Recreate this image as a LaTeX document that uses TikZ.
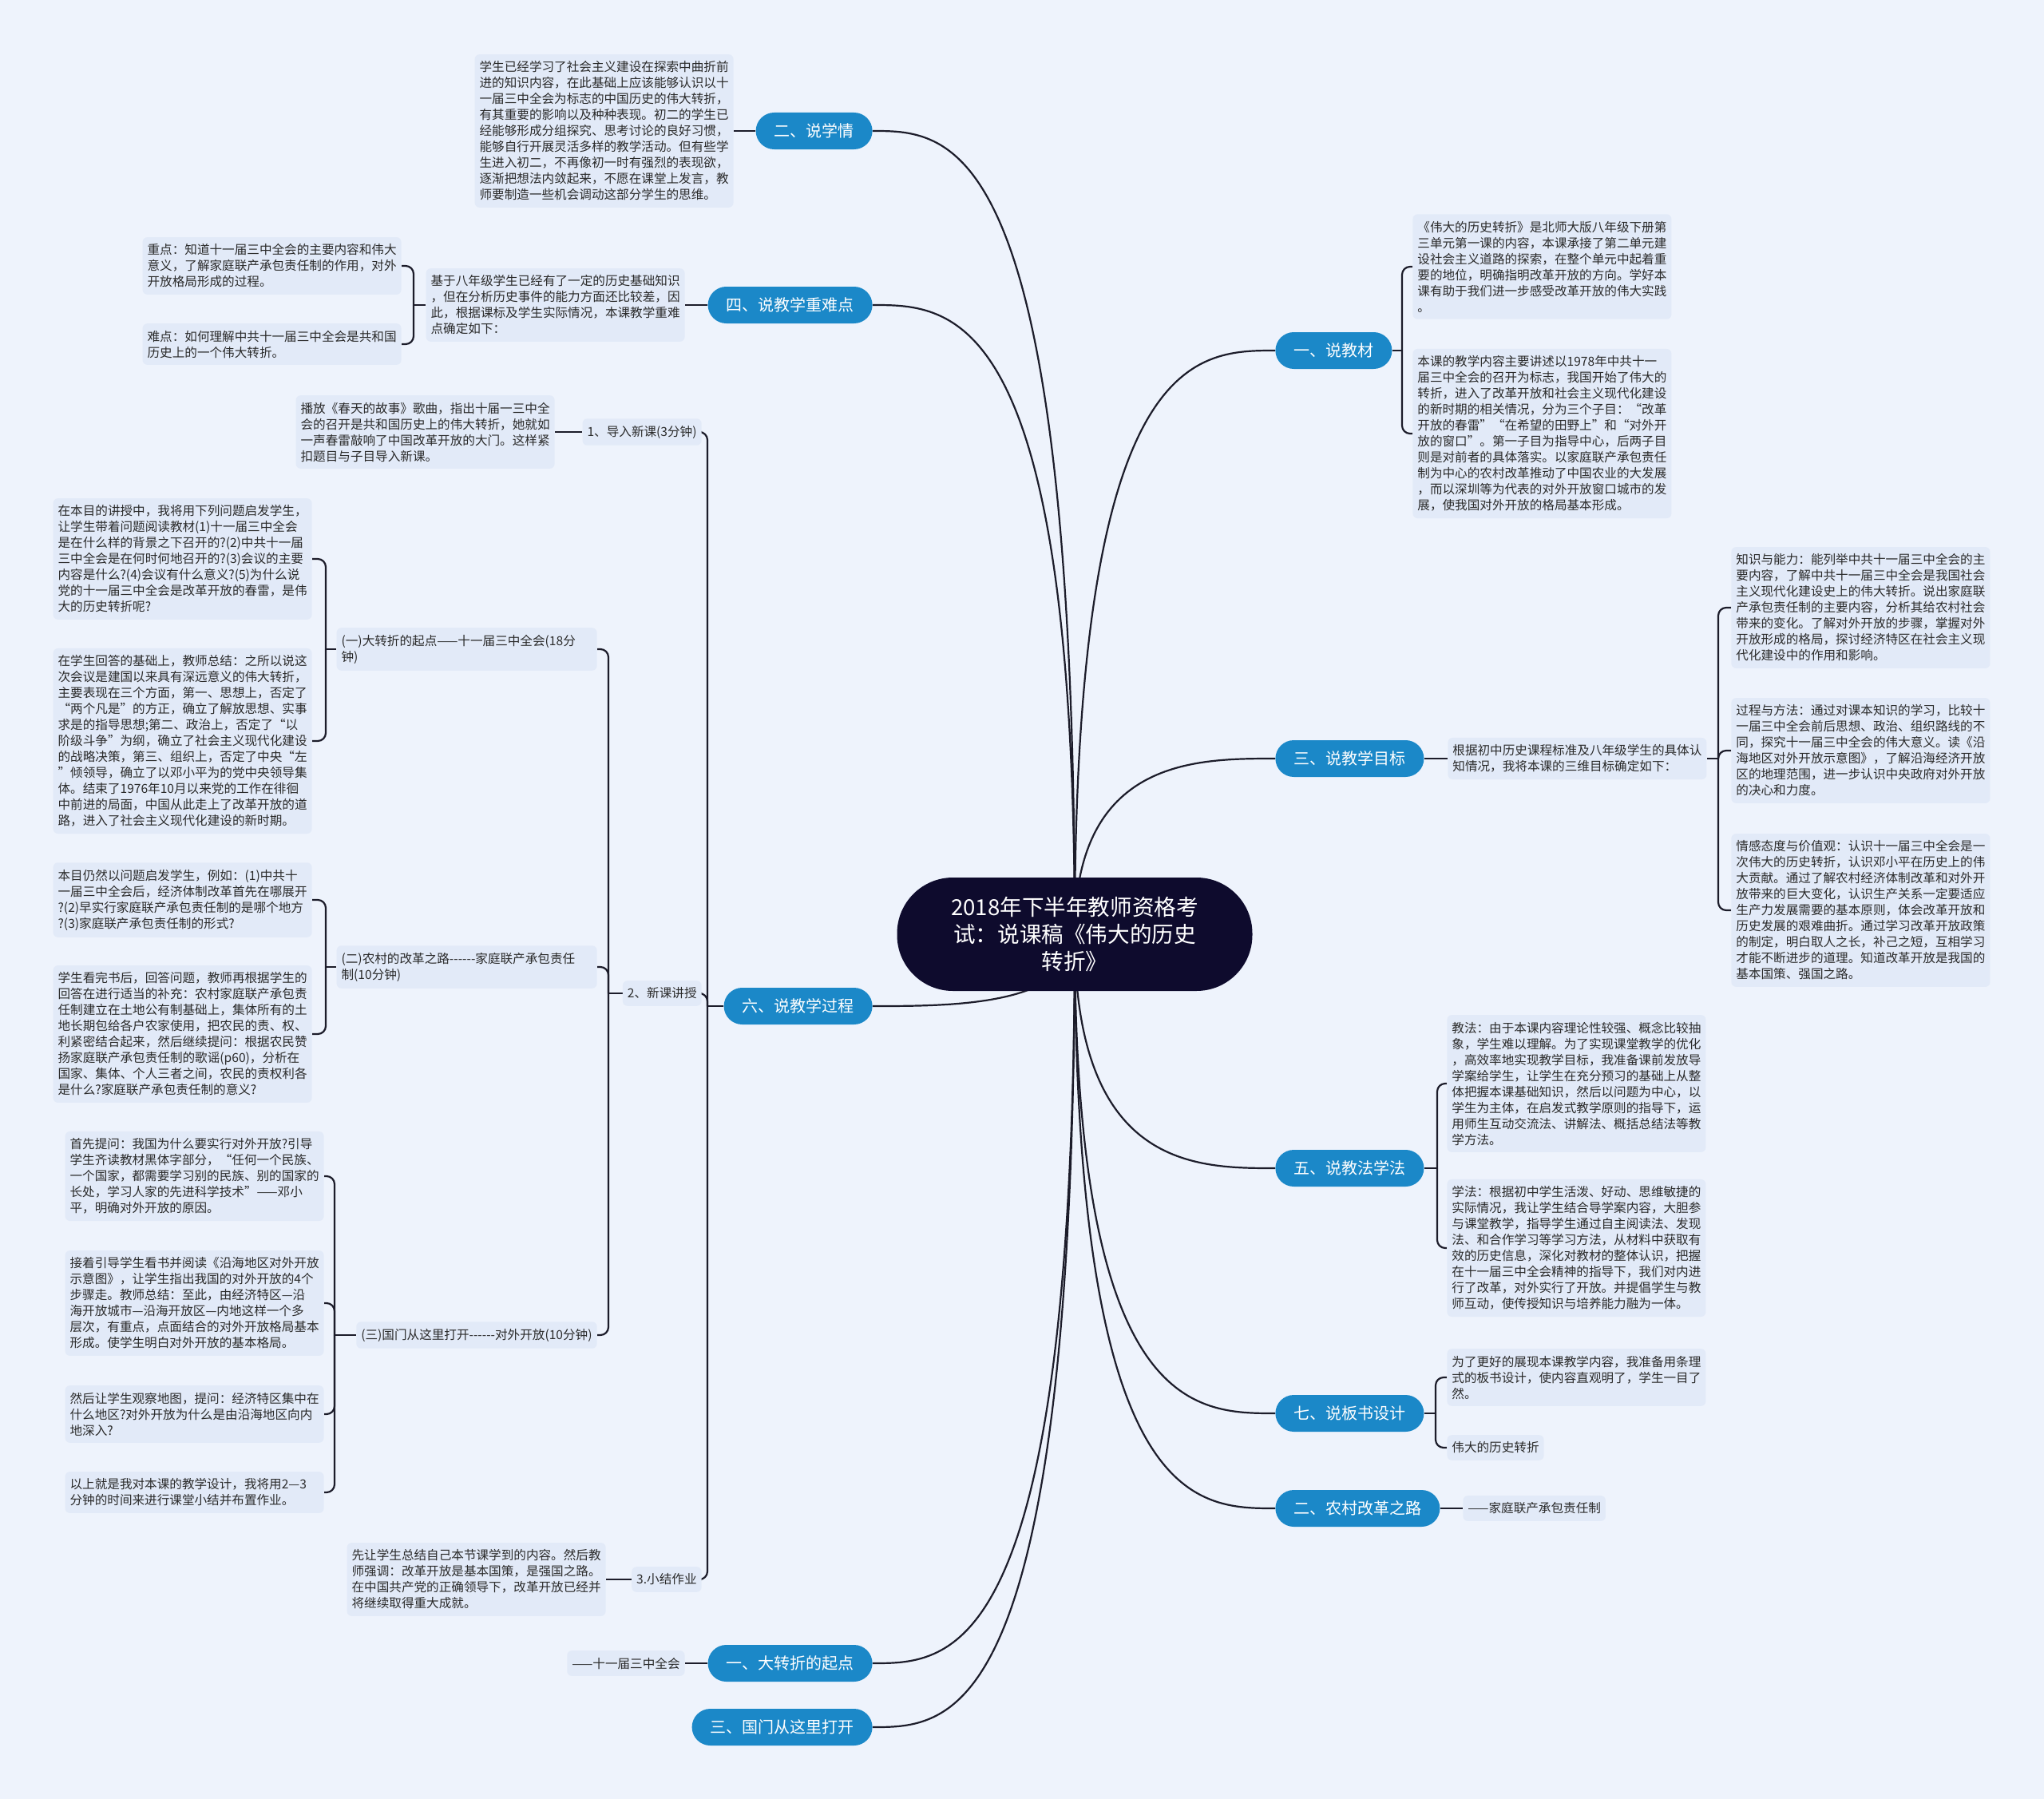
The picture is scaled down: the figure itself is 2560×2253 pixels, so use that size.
\documentclass[tikz,border=0pt]{standalone}
\usepackage{fontspec}
\setmainfont{Noto Sans CJK SC}
\usetikzlibrary{calc}
\pgfdeclarelayer{bgl}
\pgfdeclarelayer{lnl}
\pgfsetlayers{bgl,lnl,main}
\definecolor{bgc}{HTML}{EEF3FC}
\definecolor{boxc}{HTML}{E2EAF8}
\definecolor{bluec}{HTML}{1B88C8}
\definecolor{darkc}{HTML}{0E0B2D}
\definecolor{linec}{HTML}{1C1C2A}
\definecolor{txtc}{HTML}{2A2A2A}
\newcommand\dsh{-\kern0pt-\kern0pt-\kern0pt-\kern0pt-\kern0pt-}
\begin{document}
\begin{tikzpicture}[x=0.5pt,y=-0.5pt,
  txt/.style={fill=boxc, rounded corners=3pt, align=left, inner xsep=3pt, inner ysep=4.3pt,
    font=\fontsize{7.8pt}{10pt}\selectfont, text=txtc},
  topic/.style={fill=bluec, text=white, rounded corners=11.5pt, minimum height=23pt,
    inner xsep=11.5pt, inner ysep=0pt, font=\fontsize{10pt}{12pt}\selectfont},
  conn/.style={draw=linec, line width=1.1pt},
  brk/.style={conn, rounded corners=5pt},
]
\useasboundingbox (0,0) rectangle (2560,2253);

% ---------- centre ----------
\node[fill=darkc, text=white, rounded corners=35pt, minimum width=222.5pt, minimum height=71pt,
  inner sep=0pt, align=center, font=\fontsize{13.8pt}{17pt}\selectfont] (C) at (1346,1170)
  {2018年下半年教师资格考\\试：说课稿《伟大的历史\\转折》};

% ---------- left main topics ----------
\node[topic, anchor=east] (b2xq) at (1093,164) {二、说学情};
\node[topic, anchor=east] (b4) at (1093,382) {四、说教学重难点};
\node[topic, anchor=east] (b6) at (1093,1260) {六、说教学过程};
\node[topic, anchor=east] (b1q) at (1093,2083) {一、大转折的起点};
\node[topic, anchor=east] (b3g) at (1093,2163) {三、国门从这里打开};

% ---------- right main topics ----------
\node[topic, anchor=west] (r1) at (1597,439) {一、说教材};
\node[topic, anchor=west] (r3) at (1597,950) {三、说教学目标};
\node[topic, anchor=west] (r5) at (1597,1463) {五、说教法学法};
\node[topic, anchor=west] (r7) at (1597,1770) {七、说板书设计};
\node[topic, anchor=west] (r2) at (1597,1889) {二、农村改革之路};

% ---------- 二、说学情 ----------
\node[txt, anchor=east] (t2xq) at (919,164) {学生已经学习了社会主义建设在探索中曲折前\\进的知识内容，在此基础上应该能够认识以十\\一届三中全会为标志的中国历史的伟大转折，\\有其重要的影响以及种种表现。初二的学生已\\经能够形成分组探究、思考讨论的良好习惯，\\能够自行开展灵活多样的教学活动。但有些学\\生进入初二，不再像初一时有强烈的表现欲，\\逐渐把想法内敛起来，不愿在课堂上发言，教\\师要制造一些机会调动这部分学生的思维。};

% ---------- 四、说教学重难点 ----------
\node[txt, anchor=east] (t4) at (858,382) {基于八年级学生已经有了一定的历史基础知识\\，但在分析历史事件的能力方面还比较差，因\\此，根据课标及学生实际情况，本课教学重难\\点确定如下：};
\node[txt, anchor=east] (t4a) at (503,333) {重点：知道十一届三中全会的主要内容和伟大\\意义，了解家庭联产承包责任制的作用，对外\\开放格局形成的过程。};
\node[txt, anchor=east] (t4b) at (503,431) {难点：如何理解中共十一届三中全会是共和国\\历史上的一个伟大转折。};

% ---------- 六、说教学过程 ----------
\node[txt, anchor=east] (s1) at (879,541) {1、导入新课(3分钟)};
\node[txt, anchor=east] (s1t) at (695,541) {播放《春天的故事》歌曲，指出十届一三中全\\会的召开是共和国历史上的伟大转折，她就如\\一声春雷敲响了中国改革开放的大门。这样紧\\扣题目与子目导入新课。};
\node[txt, anchor=east] (s2) at (879,1244) {2、新课讲授};
\node[txt, anchor=east, text width=157pt] (k1) at (748,813) {(一)大转折的起点——十一届三中全会(18分\\钟)};
\node[txt, anchor=east] (A1) at (391,700) {在本目的讲授中，我将用下列问题启发学生，\\让学生带着问题阅读教材(1)十一届三中全会\\是在什么样的背景之下召开的?(2)中共十一届\\三中全会是在何时何地召开的?(3)会议的主要\\内容是什么?(4)会议有什么意义?(5)为什么说\\党的十一届三中全会是改革开放的春雷，是伟\\大的历史转折呢?};
\node[txt, anchor=east] (A2) at (391,928) {在学生回答的基础上，教师总结：之所以说这\\次会议是建国以来具有深远意义的伟大转折，\\主要表现在三个方面，第一、思想上，否定了\\“两个凡是”的方正，确立了解放思想、实事\\求是的指导思想;第二、政治上，否定了“以\\阶级斗争”为纲，确立了社会主义现代化建设\\的战略决策，第三、组织上，否定了中央“左\\”倾领导，确立了以邓小平为的党中央领导集\\体。结束了1976年10月以来党的工作在徘徊\\中前进的局面，中国从此走上了改革开放的道\\路，进入了社会主义现代化建设的新时期。};
\node[txt, anchor=east, text width=157pt] (k2) at (748,1211) {(二)农村的改革之路\dsh 家庭联产承包责任\\制(10分钟)};
\node[txt, anchor=east] (B1) at (391,1127) {本目仍然以问题启发学生，例如：(1)中共十\\一届三中全会后，经济体制改革首先在哪展开\\?(2)早实行家庭联产承包责任制的是哪个地方\\?(3)家庭联产承包责任制的形式?};
\node[txt, anchor=east] (B2) at (391,1295) {学生看完书后，回答问题，教师再根据学生的\\回答在进行适当的补充：农村家庭联产承包责\\任制建立在土地公有制基础上，集体所有的土\\地长期包给各户农家使用，把农民的责、权、\\利紧密结合起来，然后继续提问：根据农民赞\\扬家庭联产承包责任制的歌谣(p60)，分析在\\国家、集体、个人三者之间，农民的责权利各\\是什么?家庭联产承包责任制的意义?};
\node[txt, anchor=east] (k3) at (748,1672) {(三)国门从这里打开\dsh 对外开放(10分钟)};
\node[txt, anchor=east] (C1) at (406,1473) {首先提问：我国为什么要实行对外开放?引导\\学生齐读教材黑体字部分，“任何一个民族、\\一个国家，都需要学习别的民族、别的国家的\\长处，学习人家的先进科学技术”——邓小\\平，明确对外开放的原因。};
\node[txt, anchor=east] (C2) at (406,1632) {接着引导学生看书并阅读《沿海地区对外开放\\示意图》，让学生指出我国的对外开放的4个\\步骤走。教师总结：至此，由经济特区—沿\\海开放城市—沿海开放区—内地这样一个多\\层次，有重点，点面结合的对外开放格局基本\\形成。使学生明白对外开放的基本格局。};
\node[txt, anchor=east] (C3) at (406,1771) {然后让学生观察地图，提问：经济特区集中在\\什么地区?对外开放为什么是由沿海地区向内\\地深入?};
\node[txt, anchor=east, text width=156pt] (C4) at (406,1869) {以上就是我对本课的教学设计，我将用2—3\\分钟的时间来进行课堂小结并布置作业。};
\node[txt, anchor=east] (s3) at (879,1978) {3.小结作业};
\node[txt, anchor=east] (s3t) at (759,1978) {先让学生总结自己本节课学到的内容。然后教\\师强调：改革开放是基本国策，是强国之路。\\在中国共产党的正确领导下，改革开放已经并\\将继续取得重大成就。};

% ---------- 一、大转折的起点 ----------
\node[txt, anchor=east] (b1qt) at (858,2083) {——十一届三中全会};

% ---------- 一、说教材 ----------
\node[txt, anchor=west] (R1a) at (1769,334) {《伟大的历史转折》是北师大版八年级下册第\\三单元第一课的内容，本课承接了第二单元建\\设社会主义道路的探索，在整个单元中起着重\\要的地位，明确指明改革开放的方向。学好本\\课有助于我们进一步感受改革开放的伟大实践\\。};
\node[txt, anchor=west] (R1b) at (1769,543) {本课的教学内容主要讲述以1978年中共十一\\届三中全会的召开为标志，我国开始了伟大的\\转折，进入了改革开放和社会主义现代化建设\\的新时期的相关情况，分为三个子目：“改革\\开放的春雷”“在希望的田野上”和“对外开\\放的窗口”。第一子目为指导中心，后两子目\\则是对前者的具体落实。以家庭联产承包责任\\制为中心的农村改革推动了中国农业的大发展\\，而以深圳等为代表的对外开放窗口城市的发\\展，使我国对外开放的格局基本形成。};

% ---------- 三、说教学目标 ----------
\node[txt, anchor=west] (r3t) at (1813,950) {根据初中历史课程标准及八年级学生的具体认\\知情况，我将本课的三维目标确定如下：};
\node[txt, anchor=west] (G1) at (2168,761) {知识与能力：能列举中共十一届三中全会的主\\要内容，了解中共十一届三中全会是我国社会\\主义现代化建设史上的伟大转折。说出家庭联\\产承包责任制的主要内容，分析其给农村社会\\带来的变化。了解对外开放的步骤，掌握对外\\开放形成的格局，探讨经济特区在社会主义现\\代化建设中的作用和影响。};
\node[txt, anchor=west] (G2) at (2168,940) {过程与方法：通过对课本知识的学习，比较十\\一届三中全会前后思想、政治、组织路线的不\\同，探究十一届三中全会的伟大意义。读《沿\\海地区对外开放示意图》，了解沿海经济开放\\区的地理范围，进一步认识中央政府对外开放\\的决心和力度。};
\node[txt, anchor=west] (G3) at (2168,1140) {情感态度与价值观：认识十一届三中全会是一\\次伟大的历史转折，认识邓小平在历史上的伟\\大贡献。通过了解农村经济体制改革和对外开\\放带来的巨大变化，认识生产关系一定要适应\\生产力发展需要的基本原则，体会改革开放和\\历史发展的艰难曲折。通过学习改革开放政策\\的制定，明白取人之长，补己之短，互相学习\\才能不断进步的道理。知道改革开放是我国的\\基本国策、强国之路。};

% ---------- 五、说教法学法 ----------
\node[txt, anchor=west] (F1) at (1812,1357) {教法：由于本课内容理论性较强、概念比较抽\\象，学生难以理解。为了实现课堂教学的优化\\，高效率地实现教学目标，我准备课前发放导\\学案给学生，让学生在充分预习的基础上从整\\体把握本课基础知识，然后以问题为中心，以\\学生为主体，在启发式教学原则的指导下，运\\用师生互动交流法、讲解法、概括总结法等教\\学方法。};
\node[txt, anchor=west] (F2) at (1812,1563) {学法：根据初中学生活泼、好动、思维敏捷的\\实际情况，我让学生结合导学案内容，大胆参\\与课堂教学，指导学生通过自主阅读法、发现\\法、和合作学习等学习方法，从材料中获取有\\效的历史信息，深化对教材的整体认识，把握\\在十一届三中全会精神的指导下，我们对内进\\行了改革，对外实行了开放。并提倡学生与教\\师互动，使传授知识与培养能力融为一体。};

% ---------- 七、说板书设计 ----------
\node[txt, anchor=west] (S1) at (1812,1725) {为了更好的展现本课教学内容，我准备用条理\\式的板书设计，使内容直观明了，学生一目了\\然。};
\node[txt, anchor=west] (S2) at (1812,1813) {伟大的历史转折};

% ---------- 二、农村改革之路 ----------
\node[txt, anchor=west] (r2t) at (1832,1889) {——家庭联产承包责任制};

% ---------- junctions ----------
\coordinate (j4) at (518,382);
\coordinate (j6) at (886,1260);
\coordinate (j2) at (762,1244);
\coordinate (jk1) at (408,813);
\coordinate (jk2) at (408,1211);
\coordinate (jk3) at (419,1672);
\coordinate (jr1) at (1756,439);
\coordinate (jr3) at (2152,950);
\coordinate (jr5) at (1800,1463);
\coordinate (jr7) at (1798,1770);

\begin{pgfonlayer}{lnl}
  % main curves
  \foreach \n in {b2xq,b4,b6,b1q,b3g}
    \draw[conn] (C.center) .. controls (C.center |- \n.east) and ([xshift=50pt]\n.east) .. (\n.east);
  \foreach \n in {r1,r3,r5,r7,r2}
    \draw[conn] (C.center) .. controls (C.center |- \n.west) and ([xshift=-50pt]\n.west) .. (\n.west);
  % left side
  \draw[conn] (b2xq.west) -- (t2xq.east);
  \draw[conn] (b4.west) -- (t4.east);
  \draw[conn] (t4.west) -- (j4);
  \draw[brk] (j4) |- (t4a.east);
  \draw[brk] (j4) |- (t4b.east);
  \draw[conn] (b6.west) -- (j6);
  \draw[brk] (j6) |- (s1.east);
  \draw[brk] (j6) |- (s2.east);
  \draw[brk] (j6) |- (s3.east);
  \draw[conn] (s1.west) -- (s1t.east);
  \draw[conn] (s3.west) -- (s3t.east);
  \draw[conn] (s2.west) -- (j2);
  \draw[brk] (j2) |- (k1.east);
  \draw[brk] (j2) |- (k2.east);
  \draw[brk] (j2) |- (k3.east);
  \draw[conn] (k1.west) -- (jk1);
  \draw[brk] (jk1) |- (A1.east);
  \draw[brk] (jk1) |- (A2.east);
  \draw[conn] (k2.west) -- (jk2);
  \draw[brk] (jk2) |- (B1.east);
  \draw[brk] (jk2) |- (B2.east);
  \draw[conn] (k3.west) -- (jk3);
  \draw[brk] (jk3) |- (C1.east);
  \draw[brk] (jk3) |- (C2.east);
  \draw[brk] (jk3) |- (C3.east);
  \draw[brk] (jk3) |- (C4.east);
  \draw[conn] (b1q.west) -- (b1qt.east);
  % right side
  \draw[conn] (r1.east) -- (jr1);
  \draw[brk] (jr1) |- (R1a.west);
  \draw[brk] (jr1) |- (R1b.west);
  \draw[conn] (r3.east) -- (r3t.west);
  \draw[conn] (r3t.east) -- (jr3);
  \draw[brk] (jr3) |- (G1.west);
  \draw[brk] (jr3) |- (G2.west);
  \draw[brk] (jr3) |- (G3.west);
  \draw[conn] (r5.east) -- (jr5);
  \draw[brk] (jr5) |- (F1.west);
  \draw[brk] (jr5) |- (F2.west);
  \draw[conn] (r7.east) -- (jr7);
  \draw[brk] (jr7) |- (S1.west);
  \draw[brk] (jr7) |- (S2.west);
  \draw[conn] (r2.east) -- (r2t.west);
\end{pgfonlayer}
\begin{pgfonlayer}{bgl}
  \fill[bgc] (0,0) rectangle (2560,2253);
\end{pgfonlayer}
\end{tikzpicture}
\end{document}
